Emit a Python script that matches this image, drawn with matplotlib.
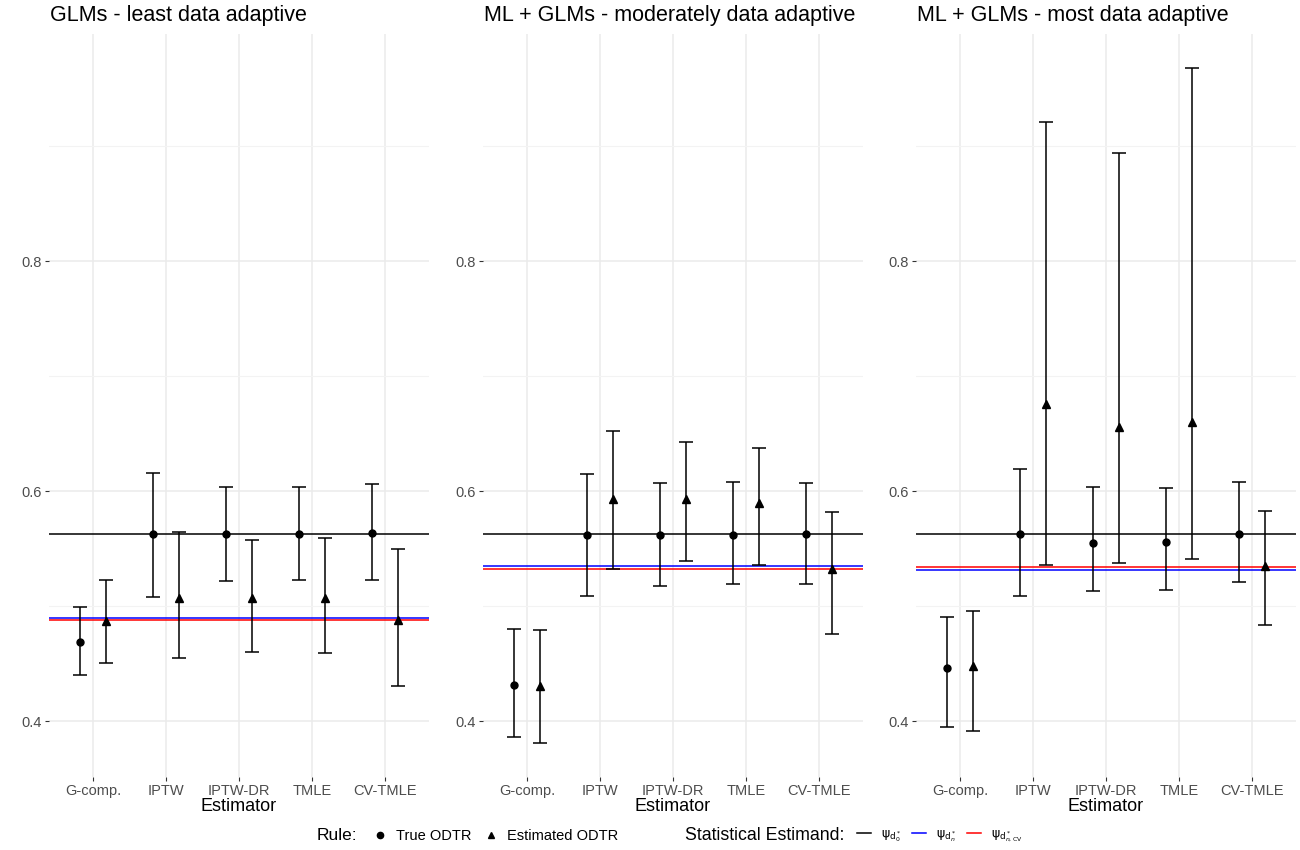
import numpy as np
import matplotlib
matplotlib.use("Agg")
import matplotlib.pyplot as plt
from matplotlib.lines import Line2D

plt.rcParams['font.family'] = ['Liberation Sans', 'DejaVu Sans']

estimators = ["G-comp.", "IPTW", "IPTW-DR", "TMLE", "CV-TMLE"]
panel_titles = ["GLMs - least data adaptive",
                "ML + GLMs - moderately data adaptive",
                "ML + GLMs - most data adaptive"]

# true ODTR: estimate, lower, upper (per panel, per estimator)
true_est = [[0.469, 0.563, 0.563, 0.563, 0.564],
            [0.432, 0.562, 0.562, 0.562, 0.563],
            [0.446, 0.563, 0.555, 0.556, 0.563]]
true_lo = [[0.440, 0.508, 0.522, 0.523, 0.523],
           [0.386, 0.509, 0.518, 0.519, 0.519],
           [0.395, 0.509, 0.513, 0.514, 0.521]]
true_hi = [[0.499, 0.616, 0.604, 0.604, 0.606],
           [0.480, 0.615, 0.607, 0.608, 0.607],
           [0.491, 0.619, 0.604, 0.603, 0.608]]

# estimated ODTR
est_est = [[0.487, 0.507, 0.507, 0.507, 0.488],
           [0.431, 0.593, 0.593, 0.590, 0.532],
           [0.448, 0.676, 0.656, 0.660, 0.535]]
est_lo = [[0.451, 0.455, 0.460, 0.459, 0.431],
          [0.381, 0.532, 0.539, 0.536, 0.476],
          [0.392, 0.536, 0.538, 0.541, 0.484]]
est_hi = [[0.523, 0.565, 0.558, 0.559, 0.550],
          [0.479, 0.652, 0.643, 0.638, 0.582],
          [0.496, 0.921, 0.894, 0.968, 0.583]]

# statistical estimands (horizontal lines)
psi_d0 = [0.5627, 0.5627, 0.5629]
psi_dn = [0.4896, 0.5354, 0.5318]
psi_dncv = [0.4878, 0.5328, 0.5339]

W, H = 1300, 850
fig = plt.figure(figsize=(13, 8.5), dpi=100)

all_vals = np.concatenate([np.ravel(true_lo), np.ravel(true_hi),
                           np.ravel(est_lo), np.ravel(est_hi)])
rng = all_vals.max() - all_vals.min()
ylim = (all_vals.min() - 0.05 * rng, all_vals.max() + 0.05 * rng)

panel_left = [49, 483, 916]
panel_w = 380
panel_top, panel_bot = 34, 777

x = np.arange(len(estimators))
dodge = 0.175

for i in range(3):
    ax = fig.add_axes([panel_left[i] / W, 1 - panel_bot / H,
                       panel_w / W, (panel_bot - panel_top) / H])
    ax.set_xlim(-0.6, len(estimators) - 0.4)
    ax.set_ylim(*ylim)
    ax.set_yticks([0.4, 0.6, 0.8])
    ax.set_yticks([0.5, 0.7, 0.9], minor=True)
    ax.set_yticklabels(["0.4", "0.6", "0.8"])
    ax.set_xticks(x)
    ax.set_xticklabels(estimators)
    ax.grid(True, which='major', color='#EBEBEB', lw=1.1, zorder=0)
    ax.grid(True, which='minor', axis='y', color='#F3F3F3', lw=0.8, zorder=0)
    ax.set_axisbelow(True)
    for s in ax.spines.values():
        s.set_visible(False)
    ax.tick_params(which='major', length=3, width=0.8, color='#333333',
                   labelcolor='#4D4D4D', labelsize=10.5, pad=2)
    ax.tick_params(which='minor', length=0)

    ax.axhline(psi_d0[i], color='black', lw=1.1, zorder=2)
    ax.axhline(psi_dn[i], color='blue', lw=1.1, zorder=2)
    ax.axhline(psi_dncv[i], color='red', lw=1.1, zorder=2)

    te = np.array(true_est[i])
    ax.errorbar(x - dodge, te, yerr=[te - np.array(true_lo[i]), np.array(true_hi[i]) - te],
                fmt='o', color='black', ms=5, capsize=5, elinewidth=1.1,
                capthick=1.1, zorder=3)
    ee = np.array(est_est[i])
    ax.errorbar(x + dodge, ee, yerr=[ee - np.array(est_lo[i]), np.array(est_hi[i]) - ee],
                fmt='^', color='black', ms=6, capsize=5, elinewidth=1.1,
                capthick=1.1, zorder=3)

    ax.set_xlabel("Estimator", fontsize=13, labelpad=0)
    fig.text((panel_left[i] + 1) / W, 1 - 16 / H, panel_titles[i], fontsize=15.5,
             ha='left', va='center')

# legends at the bottom
fig.text(317 / W, 1 - 836 / H, "Rule:", fontsize=12.5, ha='left', va='center')
rule_handles = [Line2D([], [], marker='o', ls='none', color='black', ms=4.5),
                Line2D([], [], marker='^', ls='none', color='black', ms=5)]
fig.legend(rule_handles, ["True ODTR", "Estimated ODTR"], ncol=2, frameon=False,
           loc='center left', bbox_to_anchor=(370 / W, 1 - 836 / H),
           fontsize=10.5, handlelength=1.4, handletextpad=0.4, columnspacing=0.6,
           borderpad=0, borderaxespad=0)

fig.text(685 / W, 1 - 836 / H, "Statistical Estimand:", fontsize=12.8,
         ha='left', va='center')
est_handles = [Line2D([], [], color='black', lw=1.1),
               Line2D([], [], color='blue', lw=1.1),
               Line2D([], [], color='red', lw=1.1)]
fig.legend(est_handles,
           [r'$\mathrm{\psi}_{\mathrm{d}_0^*}$', r'$\mathrm{\psi}_{\mathrm{d}_n^*}$',
            r'$\mathrm{\psi}_{\mathrm{d}^*_{n,\mathrm{CV}}}$'],
           ncol=3, frameon=False, loc='center left',
           bbox_to_anchor=(857 / W, 1 - 836 / H), fontsize=9,
           handlelength=1.1, handletextpad=0.8, columnspacing=0.9,
           borderpad=0, borderaxespad=0)

fig.savefig("out.png", dpi=100)
